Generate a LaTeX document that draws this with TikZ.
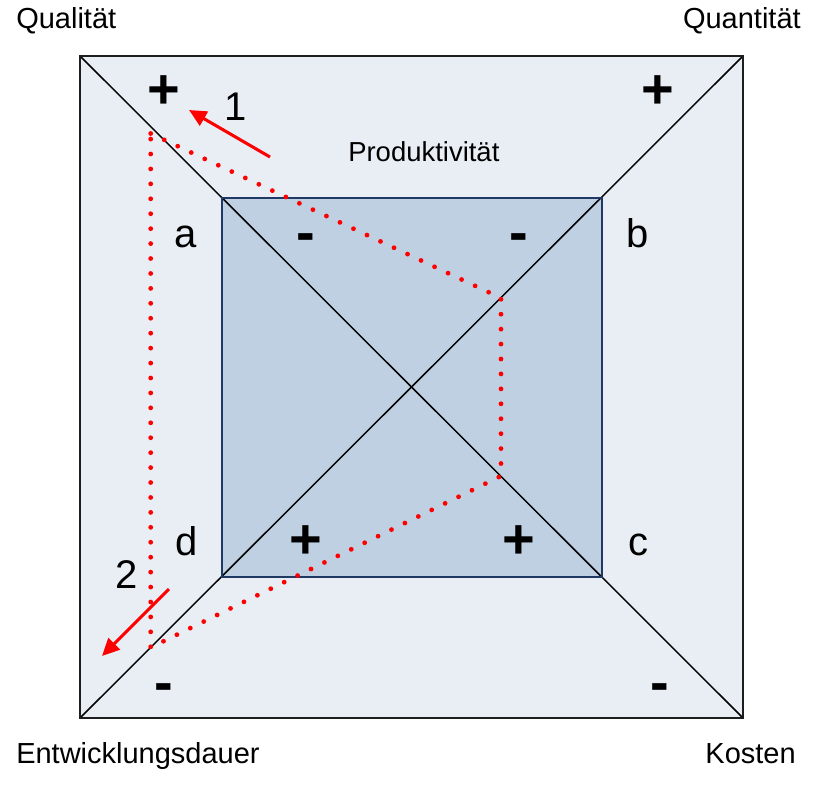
\documentclass[tikz,border=0pt]{standalone}
\usepackage{fontspec}
\setmainfont{Liberation Sans}
\usetikzlibrary{arrows.meta}
\definecolor{outerfill}{RGB}{233,238,245}
\definecolor{innerfill}{RGB}{191,208,226}
\definecolor{innerline}{RGB}{31,56,100}
\definecolor{outerline}{RGB}{30,30,30}
\begin{document}
\begin{tikzpicture}[x=0.75pt,y=-0.75pt,
  diag/.style={draw=black, line width=1.1pt},
  reddots/.style={draw=red, line width=3.6pt, line cap=round, dash pattern=on 0pt off 11.2pt},
  redarrow/.style={draw=red, line width=2.3pt, -{Triangle[length=13pt,width=12pt]}},
  cornerlbl/.style={font=\fontsize{21.75}{26}\selectfont, inner sep=0pt},
  letterlbl/.style={font=\fontsize{30}{36}\selectfont, inner sep=0pt, anchor=base},
  signlbl/.style={font=\bfseries\fontsize{42}{50}\selectfont, inner sep=0pt, anchor=base}]
\useasboundingbox (0,0) rectangle (822,785);
% squares
\coordinate (O1) at (80,56);
\coordinate (O2) at (743,56);
\coordinate (O3) at (743,718);
\coordinate (O4) at (80,718);
\coordinate (I1) at (222,198);
\coordinate (I2) at (602,198);
\coordinate (I3) at (602,577);
\coordinate (I4) at (222,577);
\fill[outerfill] (O1) rectangle (O3);
\fill[innerfill] (I1) rectangle (I3);
\draw[diag] (O1) -- (O3);
\draw[diag] (O4) -- (O2);
\draw[innerline, line width=1.9pt] (I1) rectangle (I3);
\draw[outerline, line width=1.9pt] (O1) rectangle (O3);
% dotted path
\coordinate (P1) at (150.7,133.5);
\coordinate (P2) at (501,298);
\coordinate (P3) at (501,476);
\coordinate (P4) at (150.7,647.5);
\draw[reddots] (P1) -- (P2) -- (P3) -- (P4) -- cycle;
% arrows
\coordinate (A1s) at (270,157);
\coordinate (A1e) at (189,110);
\coordinate (A2s) at (169,589);
\coordinate (A2e) at (102,656);
\draw[redarrow] (A1s) -- (A1e);
\draw[redarrow] (A2s) -- (A2e);
% corner labels
\node[cornerlbl, anchor=base west] (qual) at (16,28) {Qualität};
\node[cornerlbl, anchor=base east] (quan) at (801,28) {Quantität};
\node[cornerlbl, anchor=base west] (entw) at (16,763) {Entwicklungsdauer};
\node[cornerlbl, anchor=base east] (kost) at (796,763) {Kosten};
\node[font=\fontsize{20.6}{24}\selectfont, inner sep=0pt, anchor=base west] (prod) at (348,161) {Produktivität};
% letters and digits
\node[letterlbl] (la) at (186,247) {a};
\node[letterlbl] (lb) at (638,247) {b};
\node[letterlbl] (lc) at (638,555) {c};
\node[letterlbl] (ld) at (187,555) {d};
\node[letterlbl] (n1) at (236,120) {1};
\node[letterlbl] (n2) at (127,588) {2};
% signs
\node[signlbl] (s1) at (164,108.5) {+};
\node[signlbl] (s2) at (658,108.5) {+};
\node[signlbl] (s3) at (163.5,701) {-};
\node[signlbl] (s4) at (660,701) {-};
\node[signlbl] (s5) at (306,251) {-};
\node[signlbl] (s6) at (519,251) {-};
\node[signlbl] (s7) at (305.5,558.5) {+};
\node[signlbl] (s8) at (518.5,558.5) {+};
\end{tikzpicture}
\end{document}
